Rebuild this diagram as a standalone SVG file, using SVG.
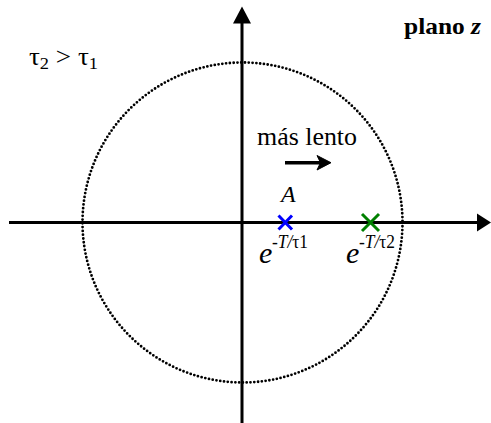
<svg xmlns="http://www.w3.org/2000/svg" width="491" height="423" viewBox="0 0 491 423">
<style>
.ax{stroke:#000;stroke-width:3;fill:none}
.t{font-family:"Liberation Serif","Times New Roman",serif;fill:#000}
.i{font-style:italic}
.x{fill:none;stroke-width:3}
</style>
<rect width="491" height="423" fill="#fff"/>
<g id="circle">
<circle cx="242.5" cy="222.5" r="160" fill="none" stroke="#000" stroke-width="2.8" stroke-linecap="round" stroke-dasharray="0 3.8"/>
</g>
<g id="axes">
<line class="ax" x1="9" y1="222.5" x2="478" y2="222.5"/>
<polygon points="477,213.5 491,222.5 477,231.5" fill="#000"/>
<line class="ax" x1="242" y1="423" x2="242" y2="22"/>
<polygon points="233,23.5 242,6.5 251,23.5" fill="#000"/>
</g>
<g id="labels">
<text class="t" x="404" y="34" font-size="23" font-weight="bold" textLength="77" lengthAdjust="spacingAndGlyphs">plano <tspan class="i">z</tspan></text>
<text class="t" x="29" y="65" font-size="25" textLength="69" lengthAdjust="spacingAndGlyphs">τ<tspan font-size="17" dy="4">2</tspan><tspan dy="-4"> &gt; τ</tspan><tspan font-size="17" dy="4">1</tspan></text>
<text class="t" x="257" y="145" font-size="25" textLength="100" lengthAdjust="spacingAndGlyphs">más lento</text>
</g>
<g id="connectors">
<line x1="285" y1="162.7" x2="322" y2="162.7" stroke="#000" stroke-width="3.5"/>
<path d="M331,162.7 L317,155.5 L320.5,162.7 L317,170 Z" fill="#000" stroke="#000" stroke-width="1" stroke-linejoin="round"/>
</g>
<g id="poleA">
<text class="t i" x="281" y="202" font-size="24">A</text>
<path class="x" stroke="#0000ff" d="M278.5,215.5 L292,229.5 M292,215.5 L278.5,229.5"/>
<text class="t" x="259" y="263" font-size="30"><tspan class="i">e</tspan></text>
<text class="t" x="272" y="248" font-size="19" textLength="36" lengthAdjust="spacingAndGlyphs">-<tspan class="i">T/</tspan>τ1</text>
</g>
<g id="poleB">
<path class="x" stroke="#008000" d="M362,214 L379,231 M379,214 L362,231"/>
<text class="t" x="346" y="263" font-size="30"><tspan class="i">e</tspan></text>
<text class="t" x="359" y="248" font-size="19" textLength="36" lengthAdjust="spacingAndGlyphs">-<tspan class="i">T/</tspan>τ2</text>
</g>
</svg>
